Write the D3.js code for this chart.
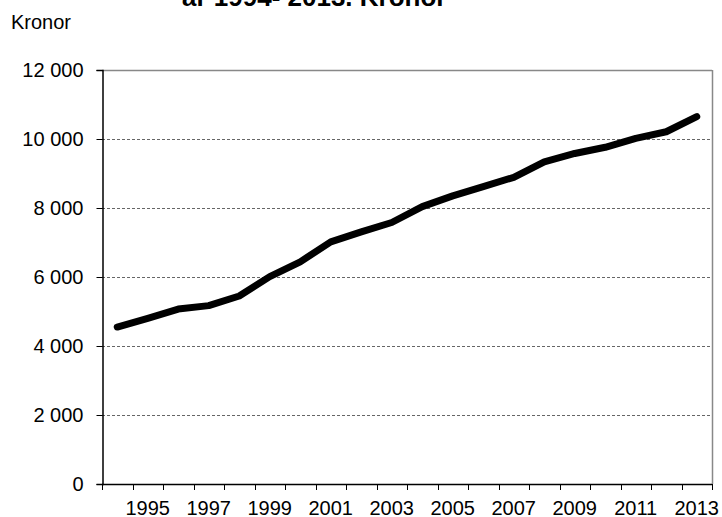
<!DOCTYPE html>
<html><head><meta charset="utf-8">
<script src="https://cdn.jsdelivr.net/npm/d3@7"></script>
<style>body{margin:0;background:#fff}svg{display:block}text{font-family:"Liberation Sans",Arial,sans-serif;fill:#000}</style>
</head><body>
<svg id="c" width="722" height="517"></svg>
<script>
const years = [1994,1995,1996,1997,1998,1999,2000,2001,2002,2003,2004,2005,2006,2007,2008,2009,2010,2011,2012,2013];
const values = [4550,4800,5070,5170,5450,6010,6440,7020,7310,7580,8040,8350,8620,8890,9340,9580,9760,10020,10210,10650];
const yTicks = [0,2000,4000,6000,8000,10000,12000];
const xLabels = [1995,1997,1999,2001,2003,2005,2007,2009,2011,2013];
const titleText = "år 1994- 2013. Kronor";
const yTitle = "Kronor";

const svg = d3.select("#c");
const L = 102, R = 712, T = 70, B = 484;
const x = d3.scaleBand().domain(years).range([L, R]).padding(0);
const y = d3.scaleLinear().domain([0, 12000]).range([B, T]);
const fmt = v => d3.format(",")(v).replace(/,/g, " ");

svg.append("text").attr("x", 182).attr("y", 6).attr("font-size", 26).attr("font-weight", "bold").text(titleText);
svg.append("text").attr("x", 11).attr("y", 29).attr("font-size", 20).text(yTitle);

// grid
svg.append("g").selectAll("line").data(yTicks.filter(v => v > 0 && v < 12000)).join("line")
  .attr("x1", L).attr("x2", R).attr("y1", d => Math.round(y(d)) + 0.5).attr("y2", d => Math.round(y(d)) + 0.5)
  .attr("stroke", "#666").attr("stroke-width", 1).attr("stroke-dasharray", "3,2");

// border top/right gray
svg.append("line").attr("x1", L).attr("x2", R).attr("y1", T + 0.5).attr("y2", T + 0.5).attr("stroke", "#888").attr("stroke-width", 1.5);
svg.append("line").attr("x1", R + 0.5).attr("x2", R + 0.5).attr("y1", T).attr("y2", B).attr("stroke", "#888").attr("stroke-width", 1.5);

// y axis
const yAxis = d3.axisLeft(y).tickValues(yTicks).tickFormat(fmt).tickSize(6).tickPadding(13);
const gy = svg.append("g").attr("transform", `translate(${L + 0.5},0)`).call(yAxis);
gy.select(".domain").attr("stroke", "#000").attr("stroke-width", 1.5);
gy.selectAll(".tick line").attr("stroke", "#000");
gy.selectAll(".tick text").attr("font-size", 20).attr("font-family", "Liberation Sans, Arial, sans-serif").attr("fill", "#000");

// x axis: ticks at band boundaries
const xAxisLine = svg.append("g");
xAxisLine.append("line").attr("x1", L).attr("x2", R).attr("y1", B + 0.5).attr("y2", B + 0.5).attr("stroke", "#000").attr("stroke-width", 1.5);
const bounds = years.map(d => x(d)).concat([x(years[years.length - 1]) + x.bandwidth()]);
xAxisLine.selectAll("line.t").data(bounds).join("line").attr("class", "t")
  .attr("x1", d => Math.round(d) + 0.5).attr("x2", d => Math.round(d) + 0.5).attr("y1", B).attr("y2", B + 6).attr("stroke", "#000");
xAxisLine.selectAll("text").data(xLabels).join("text")
  .attr("x", d => x(d) + x.bandwidth() / 2).attr("y", 515).attr("text-anchor", "middle").attr("font-size", 20).text(d => d);

// line
const line = d3.line().x((d, i) => x(years[i]) + x.bandwidth() / 2).y(d => y(d));
svg.append("path").datum(values).attr("d", line).attr("fill", "none").attr("stroke", "#000")
  .attr("stroke-width", 7).attr("stroke-linejoin", "round").attr("stroke-linecap", "round");
</script>
</body></html>
